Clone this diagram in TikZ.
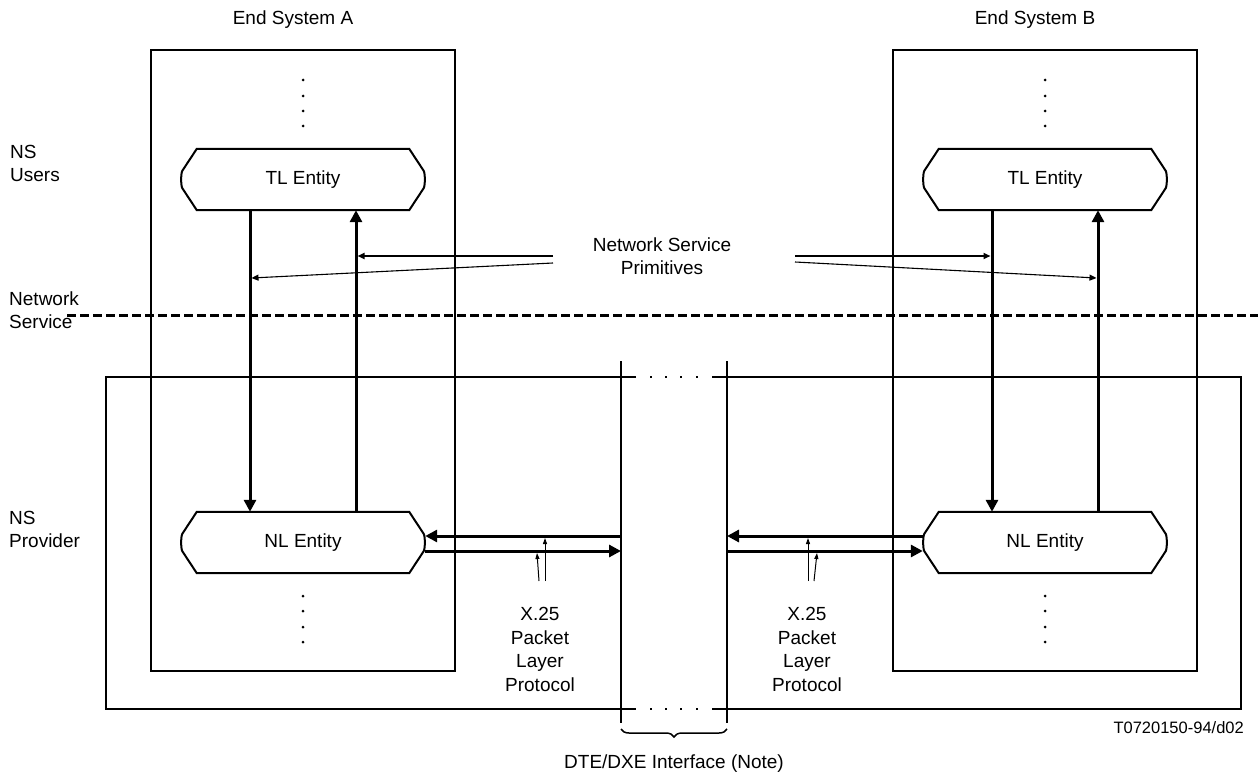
\documentclass[tikz,border=0pt]{standalone}
\usepackage{fontspec}
\setmainfont{Liberation Sans}
\usetikzlibrary{arrows.meta,decorations.pathreplacing}
\newcommand\entoutline[1]{%
  \draw[entline] ([xshift=16pt]#1.north west) -- ([xshift=-16pt]#1.north east)
    -- ([xshift=-1.5pt,yshift=-22pt]#1.north east)
    .. controls ([yshift=6pt]#1.east) and ([yshift=-6pt]#1.east) .. ([xshift=-1.5pt,yshift=22pt]#1.south east)
    -- ([xshift=-16pt]#1.south east) -- ([xshift=16pt]#1.south west)
    -- ([xshift=1.5pt,yshift=22pt]#1.south west)
    .. controls ([yshift=-6pt]#1.west) and ([yshift=6pt]#1.west) .. ([xshift=1.5pt,yshift=-22pt]#1.north west)
    -- cycle;}
\begin{document}
\begin{tikzpicture}[x=1pt,y=-1pt,
  lbl/.style={font=\fontsize{19}{23.5}\selectfont, inner sep=0pt, align=center},
  lblleft/.style={font=\fontsize{19}{23.5}\selectfont, inner sep=0pt, align=left, anchor=west},
  entity/.style={lbl, minimum width=244pt, minimum height=61pt},
  sysbox/.style={draw, line width=2pt},
  entline/.style={line width=2pt, line join=miter},
  provline/.style={line width=2pt, line join=miter},
  bigarr/.style={line width=3pt, -{Triangle[length=12pt,width=12pt]}},
  primarr/.style={line width=1.8pt, -{Triangle[length=7pt,width=6pt]}},
  slantarr/.style={line width=1.1pt, -{Triangle[length=7pt,width=6pt]}},
  smallarr/.style={line width=1pt, -{Triangle[length=6pt,width=4pt]}},
  iface/.style={line width=2.6pt},
  sepline/.style={line width=3pt, dash pattern=on 9pt off 4pt}
]
\path[use as bounding box, fill=white] (0,0) rectangle (1258,778);

% End system boxes
\draw[sysbox] (151,50) rectangle (455,671);
\draw[sysbox] (893,50) rectangle (1197,671);

% Provider box (two halves, open at interface)
\draw[provline] (636,377) -- (106,377) -- (106,709) -- (636,709);
\draw[provline] (712,377) -- (1241,377) -- (1241,709) -- (712,709);
\foreach \x in {651,666,681,697} {
  \fill (\x-1.2,375.8) rectangle (\x+1.2,378.2);
  \fill (\x-1.2,707.8) rectangle (\x+1.2,710.2);
}

% Interface lines
\coordinate (ifAt) at (621,361); \coordinate (ifAb) at (621,723);
\coordinate (ifBt) at (727,361); \coordinate (ifBb) at (727,723);
\draw[iface] (ifAt) -- (ifAb);
\draw[iface] (ifBt) -- (ifBb);
\draw[line width=1.5pt, decorate, decoration={brace, amplitude=8pt}] (727,729) -- (621,729);

% Network service line
\draw[sepline] (67,315) -- (1258,315);

% Vertical dots
\foreach \x in {303,1045} {
  \foreach \y in {80,96,111,126,596,611,627,642} {
    \fill (\x,\y) circle (1.5pt);
  }
}

% Entities
\node[entity] (tla) at (303,179.5) {TL Entity};
\node[entity] (nla) at (303,542.5) {NL Entity};
\node[entity] (tlb) at (1045,179.5) {TL Entity};
\node[entity] (nlb) at (1045,542.5) {NL Entity};
\entoutline{tla}
\entoutline{nla}
\entoutline{tlb}
\entoutline{nlb}

% Vertical arrows between entities
\draw[bigarr] ([xshift=-53pt]tla.south) -- ([xshift=-53pt]nla.north);
\draw[bigarr] ([xshift=53pt]nla.north) -- ([xshift=53pt]tla.south);
\draw[bigarr] ([xshift=-53pt]tlb.south) -- ([xshift=-53pt]nlb.north);
\draw[bigarr] ([xshift=53pt]nlb.north) -- ([xshift=53pt]tlb.south);

% Horizontal arrows to interface
\coordinate (pa1) at (621,536); \coordinate (pa2) at (621,551);
\coordinate (pb1) at (727,536); \coordinate (pb2) at (727,551);
\draw[bigarr] (pa1) -- (nla.east |- pa1);
\draw[bigarr] (nla.east |- pa2) -- (pa2);
\draw[bigarr] (nlb.west |- pb1) -- (pb1);
\draw[bigarr] (pb2) -- (nlb.west |- pb2);

% Labels
\node[lbl] (esa) at (293,20) {End System A};
\node[lbl] (esb) at (1035,20) {End System B};
\node[lblleft] (nsu) at (10,163.5) {NS\\Users};
\node[lblleft] (nsv) at (9,310) {Network\\Service};
\node[lblleft] (nsp) at (9,529.5) {NS\\Provider};
\node[lbl] (prim) at (662,256) {Network Service\\Primitives};
\node[lbl] (xa) at (540,649.5) {X.25\\Packet\\Layer\\Protocol};
\node[lbl] (xb) at (807,649.5) {X.25\\Packet\\Layer\\Protocol};
\node[lbl] (dte) at (674,764) {DTE/DXE Interface (Note)};
\node[font=\fontsize{16.5}{20}\selectfont, inner sep=0pt, anchor=east] (ref) at (1244,728) {T0720150-94/d02};

% Network service primitive pointers
\coordinate (qa1) at (553,256); \coordinate (qa2) at (553,263);
\coordinate (qb1) at (795,256); \coordinate (qb2) at (795,262);
\draw[primarr] (qa1) -- (357.5,256);
\draw[slantarr] (qa2) -- (251.5,278);
\draw[primarr] (qb1) -- (990.5,256);
\draw[slantarr] (qb2) -- (1096.5,278);

% Protocol pointers
\draw[smallarr] (545,581) -- (545,538);
\draw[smallarr] (539,581) -- (537,553);
\draw[smallarr] (808,581) -- (808,538);
\draw[smallarr] (814,581) -- (817,553);
\end{tikzpicture}
\end{document}
